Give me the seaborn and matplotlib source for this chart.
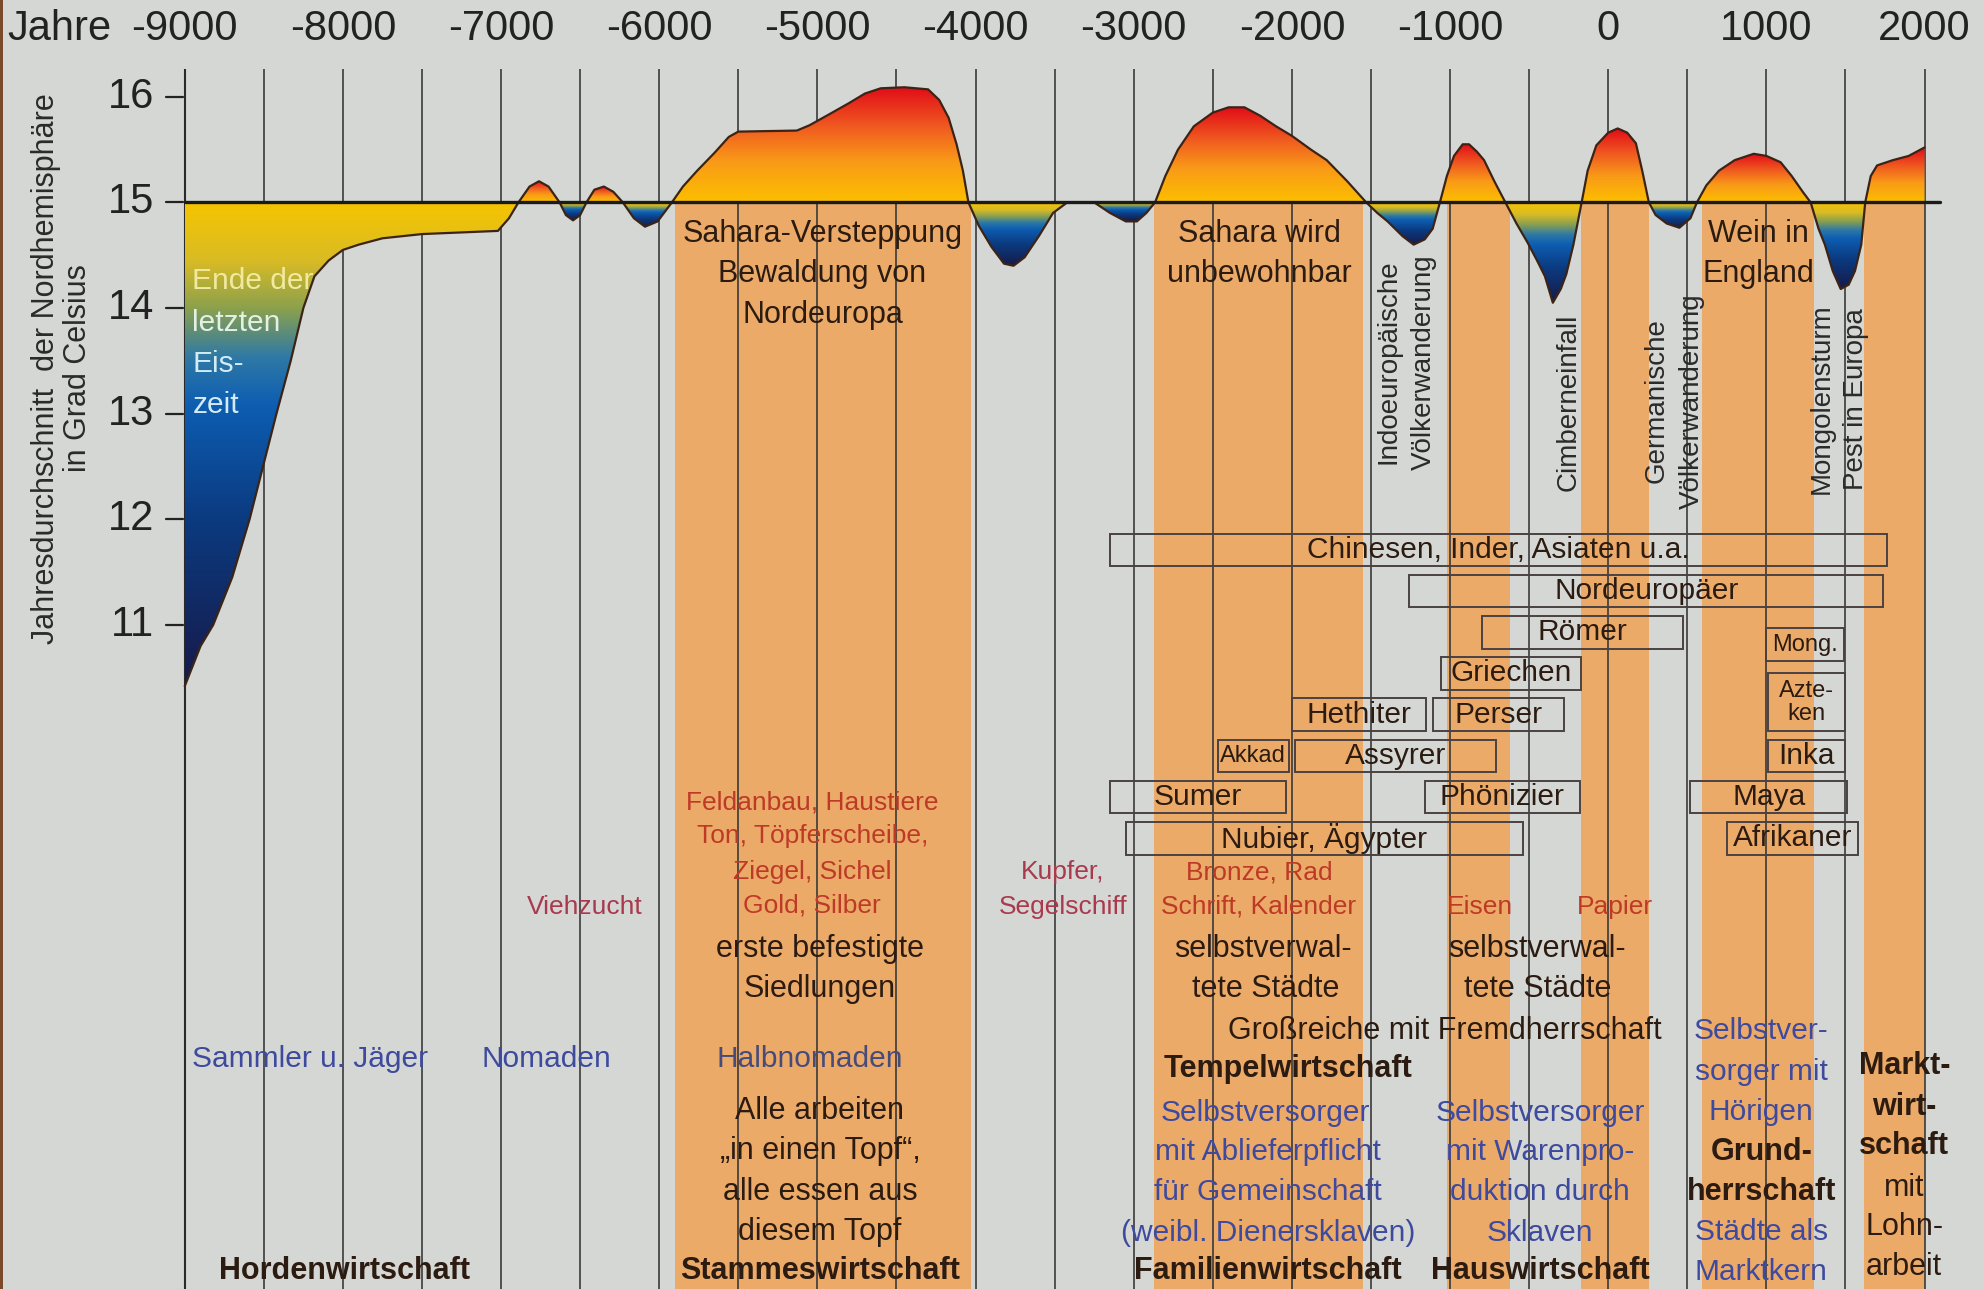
import numpy as np
import matplotlib
matplotlib.use('Agg')
import matplotlib.pyplot as plt
from matplotlib.colors import LinearSegmentedColormap
from matplotlib.patches import Rectangle
import seaborn as sns

# temperature curve
years = [-9000, -8900, -8820, -8700, -8590, -8420, -8330, -8250, -8180, -8090, -8000, -7900,
         -7750, -7500, -7020, -6950, -6890, -6820, -6760, -6700, -6630, -6590, -6545, -6500,
         -6460, -6410, -6350, -6290, -6230, -6160, -6090, -6010, -5920, -5850, -5760, -5650,
         -5560, -5500, -5130, -5050, -4930, -4800, -4700, -4600, -4450, -4300, -4230, -4170,
         -4120, -4080, -4045, -3980, -3900, -3820, -3760, -3690, -3600, -3510, -3420, -3250,
         -3150, -3050, -2980, -2920, -2865, -2800, -2720, -2620, -2500, -2400, -2300, -2200,
         -2100, -2000, -1880, -1780, -1650, -1560, -1530, -1460, -1395, -1300, -1230, -1160,
         -1110, -1064, -1020, -975, -920, -880, -830, -785, -720, -650, -580, -510, -450, -400,
         -350, -300, -265, -220, -168, -130, -75, 0, 60, 120, 175, 215, 257, 300, 370, 450, 520,
         561, 620, 700, 800, 920, 1000, 1090, 1160, 1230, 1280, 1330, 1370, 1420, 1470, 1520,
         1560, 1600, 1625, 1660, 1700, 1800, 1900, 2000]
temps = [10.42, 10.8, 11.0, 11.45, 12.0, 13.0, 13.5, 14.0, 14.3, 14.45, 14.55, 14.6,
         14.66, 14.7, 14.73, 14.85, 15.0, 15.15, 15.2, 15.15, 15.0, 14.88, 14.83, 14.88,
         15.0, 15.12, 15.15, 15.1, 15.0, 14.85, 14.77, 14.82, 15.0, 15.15, 15.3, 15.47,
         15.62, 15.67, 15.68, 15.73, 15.83, 15.94, 16.03, 16.08, 16.09, 16.07, 15.97, 15.8,
         15.55, 15.3, 15.0, 14.78, 14.58, 14.42, 14.4, 14.48, 14.68, 14.9, 15.0, 15.0,
         14.9, 14.82, 14.82, 14.9, 15.0, 15.25, 15.5, 15.72, 15.85, 15.9, 15.9, 15.82,
         15.72, 15.63, 15.5, 15.4, 15.2, 15.05, 15.0, 14.9, 14.82, 14.68, 14.6, 14.65,
         14.75, 15.0, 15.25, 15.44, 15.55, 15.55, 15.48, 15.4, 15.2, 15.0, 14.8, 14.62, 14.45, 14.3,
         14.05, 14.18, 14.32, 14.6, 15.0, 15.3, 15.54, 15.66, 15.7, 15.66, 15.56, 15.3, 15.0, 14.88, 14.8, 14.76, 14.85,
         15.0, 15.16, 15.3, 15.4, 15.46, 15.44, 15.38, 15.25, 15.1, 15.0, 14.75, 14.6, 14.35, 14.18, 14.22,
         14.35, 14.6, 15.0, 15.25, 15.35, 15.4, 15.44, 15.52]

warm_start = [-5900, -2870, -1020, -170, 590, 1620]
warm_end = [-4030, -1550, -620, 260, 1300, 2000]

tick_years = list(range(-9000, 2001, 1000))
grid_years = list(range(-8500, 2001, 500))
temp_ticks = [16, 15, 14, 13, 12, 11]

peoples = ["Chinesen, Inder, Asiaten u.a.", "Nordeuropäer", "Römer", "Griechen", "Hethiter",
           "Perser", "Akkad", "Assyrer", "Sumer", "Phönizier", "Nubier, Ägypter", "Mong.",
           "Azte-\nken", "Inka", "Maya", "Afrikaner"]
people_start = [-3150, -1260, -800, -1060, -2000, -1110, -2470, -1980, -3150, -1160, -3050,
                1000, 1010, 1010, 520, 750]
people_end = [1760, 1740, 470, -170, -1150, -280, -2020, -710, -2040, -180, -540,
              1490, 1500, 1500, 1510, 1580]
people_row = [0, 1, 2, 3, 4, 4, 5, 5, 6, 6, 7, 2.3, 3.7, 5, 6, 7]

DARK = '#2b1b10'
RED = '#bd3a26'
ROSE = '#a93a4e'
BLUE = '#3d4a9e'
BG = '#d5d7d4'
BAND = '#ecaa69'

# font sizes (Liberation Sans, sized to match the condensed original's widths)
BODY, SMALLRED, BLUEFS, BIG = 22, 19, 21.5, 30

# text lines: text, year, level, colour, size, weight
labels = [
    ("Sahara-Versteppung", -4968, 14.70, DARK, BODY, 'normal'),
    ("Bewaldung von", -4968, 14.32, DARK, BODY, 'normal'),
    ("Nordeuropa", -4968, 13.93, DARK, BODY, 'normal'),
    ("Sahara wird", -2208, 14.70, DARK, BODY, 'normal'),
    ("unbewohnbar", -2208, 14.32, DARK, BODY, 'normal'),
    ("Wein in", 952, 14.70, DARK, BODY, 'normal'),
    ("England", 952, 14.32, DARK, BODY, 'normal'),
    ("Feldanbau, Haustiere", -5032, 9.32, RED, SMALLRED, 'normal'),
    ("Ton, Töpferscheibe,", -5032, 9.00, RED, SMALLRED, 'normal'),
    ("Ziegel, Sichel", -5032, 8.66, RED, SMALLRED, 'normal'),
    ("Gold, Silber", -5032, 8.34, RED, SMALLRED, 'normal'),
    ("Viehzucht", -6472, 8.33, ROSE, SMALLRED, 'normal'),
    ("Kupfer,", -3448, 8.66, ROSE, SMALLRED, 'normal'),
    ("Segelschiff", -3448, 8.33, ROSE, SMALLRED, 'normal'),
    ("Bronze, Rad", -2208, 8.66, RED, SMALLRED, 'normal'),
    ("Schrift, Kalender", -2208, 8.33, RED, SMALLRED, 'normal'),
    ("Eisen", -808, 8.33, RED, SMALLRED, 'normal'),
    ("Papier", 40, 8.33, RED, SMALLRED, 'normal'),
    ("erste befestigte", -4984, 7.93, DARK, BODY, 'normal'),
    ("Siedlungen", -4984, 7.55, DARK, BODY, 'normal'),
    ("selbstverwal-", -2184, 7.93, DARK, BODY, 'normal'),
    ("tete Städte", -2168, 7.55, DARK, BODY, 'normal'),
    ("selbstverwal-", -448, 7.93, DARK, BODY, 'normal'),
    ("tete Städte", -448, 7.55, DARK, BODY, 'normal'),
    ("Großreiche mit Fremdherrschaft", -1032, 7.16, DARK, BODY, 'normal'),
    ("Sammler u. Jäger", -8208, 6.89, BLUE, BLUEFS, 'normal'),
    ("Nomaden", -6712, 6.89, BLUE, BLUEFS, 'normal'),
    ("Halbnomaden", -5048, 6.89, '#474b7a', BLUEFS, 'normal'),
    ("Alle arbeiten", -4984, 6.40, DARK, BODY, 'normal'),
    ("„in einen Topf“,", -4984, 6.02, DARK, BODY, 'normal'),
    ("alle essen aus", -4984, 5.63, DARK, BODY, 'normal'),
    ("diesem Topf", -4984, 5.25, DARK, BODY, 'normal'),
    ("Tempelwirtschaft", -2024, 6.80, DARK, BODY, 'bold'),
    ("Selbstversorger", -2168, 6.38, BLUE, BLUEFS, 'normal'),
    ("mit Ablieferpflicht", -2152, 6.01, BLUE, BLUEFS, 'normal'),
    ("für Gemeinschaft", -2152, 5.63, BLUE, BLUEFS, 'normal'),
    ("(weibl. Dienersklaven)", -2152, 5.24, BLUE, BLUEFS, 'normal'),
    ("Selbstversorger", -432, 6.38, BLUE, BLUEFS, 'normal'),
    ("mit Warenpro-", -432, 6.01, BLUE, BLUEFS, 'normal'),
    ("duktion durch", -432, 5.63, BLUE, BLUEFS, 'normal'),
    ("Sklaven", -432, 5.24, BLUE, BLUEFS, 'normal'),
    ("Selbstver-", 968, 7.16, BLUE, BLUEFS, 'normal'),
    ("sorger mit", 968, 6.77, BLUE, BLUEFS, 'normal'),
    ("Hörigen", 968, 6.39, BLUE, BLUEFS, 'normal'),
    ("Grund-", 968, 6.01, DARK, BODY, 'bold'),
    ("herrschaft", 968, 5.63, DARK, BODY, 'bold'),
    ("Städte als", 968, 5.25, BLUE, BLUEFS, 'normal'),
    ("Marktkern", 968, 4.87, BLUE, BLUEFS, 'normal'),
    ("Markt-", 1872, 6.82, DARK, BODY, 'bold'),
    ("wirt-", 1872, 6.44, DARK, BODY, 'bold'),
    ("schaft", 1872, 6.07, DARK, BODY, 'bold'),
    ("mit", 1872, 5.67, DARK, BODY, 'normal'),
    ("Lohn-", 1872, 5.30, DARK, BODY, 'normal'),
    ("arbeit", 1872, 4.92, DARK, BODY, 'normal'),
    ("Hordenwirtschaft", -7992, 4.88, DARK, BODY, 'bold'),
    ("Stammeswirtschaft", -4984, 4.88, DARK, BODY, 'bold'),
    ("Familienwirtschaft", -2152, 4.88, DARK, BODY, 'bold'),
    ("Hauswirtschaft", -432, 4.88, DARK, BODY, 'bold'),
]

ice_lines = [("Ende der", 14.26, '#f2e9a0'), ("letzten", 13.86, '#e4f0e6'),
             ("Eis-", 13.47, '#d3ebf5'), ("zeit", 13.08, '#d3ebf5')]

events = [("Indoeuropäische", -1392, 13.49), ("Völkerwanderung", -1168, 13.49),
          ("Cimberneinfall", -248, 13.11), ("Germanische", 304, 13.12),
          ("Völkerwanderung", 528, 13.12), ("Mongolensturm", 1352, 13.14),
          ("Pest in Europa", 1568, 13.14)]

sns.set_style('white')
plt.rcParams['font.family'] = ['Liberation Sans', 'DejaVu Sans']

fig = plt.figure(figsize=(19.84, 12.89), dpi=100, facecolor=BG)
ax = fig.add_axes([0, 0, 1, 1])
ax.set_facecolor(BG)
YMIN, YMAX = 4.713, 16.916

# warm periods as orange bands
for s, e in zip(warm_start, warm_end):
    ax.add_patch(Rectangle((s, YMIN), e - s, 15 - YMIN, facecolor=BAND, edgecolor='none', zorder=1))

ax.vlines(grid_years, YMIN, 16.26, colors='#3a3a3a', lw=1.2, zorder=2)
ax.vlines([-9000], YMIN, 16.26, colors='#2a2a2a', lw=1.5, zorder=2)

warm_cmap = LinearSegmentedColormap.from_list(
    'warm', [(0, '#fcbf00'), (0.35, '#f99a18'), (0.65, '#f05a20'), (1, '#e10a18')])
cold_cmap = LinearSegmentedColormap.from_list(
    'cold', [(0, '#f6c500'), (0.12, '#d8bb25'), (0.22, '#8aa04e'), (0.32, '#2e79a6'),
             (0.42, '#0d5db2'), (0.65, '#0b3b80'), (1, '#17194a')])

yrs = np.array(years, dtype=float)
tp = np.array(temps, dtype=float)
zero = list(np.where(tp == 15.0)[0])
bounds = [0] + zero + [len(tp) - 1]
grad = np.linspace(0, 1, 256).reshape(-1, 1)
for i0, i1 in zip(bounds[:-1], bounds[1:]):
    xs, ts = yrs[i0:i1 + 1], tp[i0:i1 + 1]
    if len(xs) < 2 or np.allclose(ts, 15.0):
        continue
    poly = ax.fill_between(xs, 15.0, ts, facecolor='none', edgecolor='none', zorder=3)
    if ts.max() > 15.0:
        im = ax.imshow(grad, extent=[xs[0], xs[-1], 15.0, ts.max()], origin='lower',
                       cmap=warm_cmap, aspect='auto', zorder=3, interpolation='bilinear')
    else:
        im = ax.imshow(grad[::-1], extent=[xs[0], xs[-1], ts.min(), 15.0], origin='lower',
                       cmap=cold_cmap, aspect='auto', zorder=3, interpolation='bilinear')
    im.set_clip_path(poly.get_paths()[0], transform=ax.transData)

sns.lineplot(x=years, y=temps, ax=ax, color='#3b2416', lw=1.6, zorder=4, sort=False)
ax.plot([-9000, 2096], [15, 15], color='#1b1b1b', lw=2.4, zorder=5)

# axes labels
for t in temp_ticks:
    ax.text(-9192, t, str(t), ha='right', va='center', fontsize=BIG, color='#222222', zorder=6)
    ax.plot([-9120, -9010], [t, t], color='#222222', lw=1.6, zorder=6)
for yv in tick_years:
    ax.text(yv, 16.64, str(yv), ha='center', va='center', fontsize=BIG, color='#222222')
ax.text(-9790, 16.64, "Jahre", ha='center', va='center', fontsize=BIG, color='#222222')
ax.text(-9776, 13.43, "Jahresdurchschnitt  der Nordhemisphäre\nin Grad Celsius",
        rotation=90, ha='center', va='center', multialignment='center',
        fontsize=22, color='#2a2a2a', linespacing=1.1)

for txt, yv, col in ice_lines:
    ax.text(-8952, yv, txt, ha='left', va='center', fontsize=21.5, color=col, zorder=6)

for txt, xv, yv in events:
    ax.text(xv, yv, txt, rotation=90, ha='center', va='center', fontsize=20,
            color='#2a2a2a', zorder=6)

for txt, xv, yv, col, fs, fw in labels:
    ax.text(xv, yv, txt, ha='center', va='center', fontsize=fs, color=col,
            fontweight=fw, zorder=6)

# peoples boxes
for name, s, e, r in zip(peoples, people_start, people_end, people_row):
    yc = 11.71 - 0.39 * r
    h = 0.55 if '\n' in name else 0.31
    ax.add_patch(Rectangle((s, yc - h / 2), e - s, h, fill=False, edgecolor='#4a4242',
                           lw=1.4, zorder=6))
    small = name in ("Akkad", "Mong.") or '\n' in name
    ax.text((s + e) / 2, yc, name, ha='center', va='center', fontsize=17 if small else 21.5,
            color=DARK, zorder=7, linespacing=1.05)

ax.set_xlim(-10168, 2376)
ax.set_ylim(YMIN, YMAX)
ax.axis('off')
fig.patches.append(Rectangle((0, 0), 0.0016, 1, transform=fig.transFigure,
                             facecolor='#7a4a28', edgecolor='none'))
fig.savefig('out.png', dpi=100, facecolor=BG)
